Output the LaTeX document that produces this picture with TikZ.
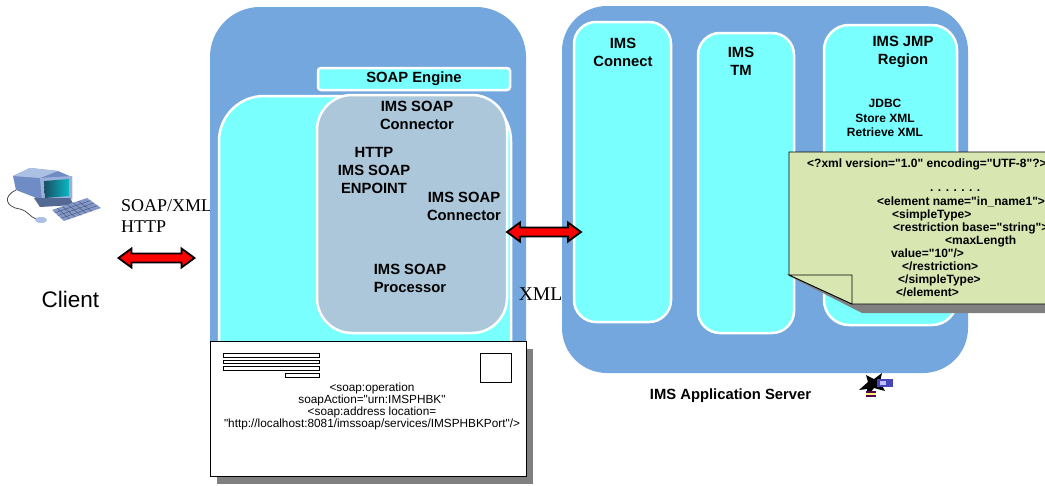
\documentclass[tikz,border=0pt]{standalone}
\usepackage{fontspec}
\setmainfont{Liberation Sans}[Ligatures=TeXOff]
\newfontfamily\tnr{Liberation Serif}
\usetikzlibrary{calc}

\definecolor{srvblue}{RGB}{116,167,222}
\definecolor{boxcyan}{RGB}{122,255,255}
\definecolor{procgray}{RGB}{172,198,218}
\definecolor{notegreen}{RGB}{216,230,178}
\definecolor{shadowgray}{RGB}{128,128,128}
\definecolor{monback}{RGB}{112,140,196}
\definecolor{monlight}{RGB}{172,192,228}
\definecolor{screendark}{RGB}{24,78,100}
\definecolor{kbdblue}{RGB}{132,152,200}

\tikzset{
  server/.style={fill=srvblue, draw=none, rounded corners=#1, inner sep=0},
  column/.style={fill=boxcyan, draw=white, line width=2.5pt, rounded corners=#1, inner sep=0},
  lbl/.style={font=\bfseries\fontsize{14.8}{18}\selectfont, align=center, inner sep=0},
  smalllbl/.style={font=\bfseries\fontsize{12}{14.5}\selectfont, align=center, inner sep=0},
  codeline/.style={font=\bfseries\fontsize{12}{13}\selectfont, anchor=base west, inner sep=0},
  envtext/.style={font=\fontsize{11.8}{10.8}\selectfont, align=center, inner sep=0},
  serifcap/.style={font=\tnr\fontsize{18}{21}\selectfont, anchor=base west, inner sep=0},
  arrowbody/.style={fill=red, draw=black, line width=1.8pt, line join=miter},
  dblarrow/.pic={
    \path[arrowbody] (-#1,0) -- (-#1+13,-9.5) -- (-#1+13,-4.5) -- (#1-13,-4.5)
      -- (#1-13,-9.5) -- (#1,0) -- (#1-13,9.5) -- (#1-13,4.5) -- (-#1+13,4.5)
      -- (-#1+13,9.5) -- cycle;
  },
  bar/.style={fill=white, draw=black, line width=0.7pt}
}

\begin{document}
\begin{tikzpicture}[x=1pt,y=-1pt]
\clip (0,0) rectangle (1045,485);
\fill[white] (0,0) rectangle (1045,485);

% ---------- client workstation ----------
\draw[gray!60!black, line width=0.8pt] (16,190) .. controls (3,196) and (5,207) .. (20,209)
  .. controls (28,211) and (30,217) .. (36,219);
\fill[monback] (13,176) -- (30,168) -- (58,171) -- (72,177) -- (72,199) -- (45,204) -- (34,197) -- (16,190) -- cycle;
\fill[monlight] (13,176) -- (30,168) -- (58,171) -- (40,178) -- cycle;
\fill[monlight!70!monback] (40,178) -- (72,176) -- (72,199) -- (42,202) -- cycle;
\shade[left color=screendark, right color=screendark!40!cyan] (44,181) -- (69,179) -- (69,196) -- (45,198) -- cycle;
\fill[monback!75!black] (34,198) -- (70,198) -- (74,205) -- (40,207) -- cycle;
\fill[kbdblue] (52,210) -- (87,198) -- (101,208) -- (64,221) -- cycle;
\foreach \t in {0.15,0.3,...,0.9}
  \draw[monback!60!black, line width=0.4pt] ($(52,210)!\t!(87,198)$) -- ($(64,221)!\t!(101,208)$);
\foreach \t in {0.25,0.5,0.75}
  \draw[monback!60!black, line width=0.4pt] ($(52,210)!\t!(64,221)$) -- ($(87,198)!\t!(101,208)$);
\fill[monlight] (41,220) ellipse [x radius=6, y radius=3];

\node[font=\fontsize{22.5}{26}\selectfont, inner sep=0] (client) at (70.5,299) {Client};
\node[serifcap] (proto1) at (121,211) {SOAP/XML};
\node[serifcap] (proto2) at (121,232) {HTTP};

% ---------- SOAP server ----------
\node[server=50, minimum width=316, minimum height=388] (soapsrv) at (368,201) {};
\node[column=45, minimum width=292, minimum height=324] (soapbase) at (365,258) {};
\node[column=3, minimum width=192, minimum height=22] (engine) at (414,79) {};
\node[lbl] at (engine) {SOAP Engine};
\node[fill=procgray, draw=white, line width=2.5pt, rounded corners=35, minimum width=190, minimum height=238, inner sep=0] (proc) at (412,214) {};
\node[lbl] (conn1) at (417,115) {IMS SOAP\\Connector};
\node[lbl] (endpt) at (374,170) {HTTP\\IMS SOAP\\ENPOINT};
\node[lbl] (conn2) at (464,206) {IMS SOAP\\Connector};
\node[lbl] (procl) at (410,278) {IMS SOAP\\Processor};

% ---------- IMS application server ----------
\node[server=45, minimum width=406, minimum height=367] (imssrv) at (765,189.5) {};
\node[column=22, minimum width=97, minimum height=300] (imsconn) at (622.5,172) {};
\node[column=22, minimum width=96, minimum height=300] (imstm) at (746,183) {};
\node[column=25, minimum width=133, minimum height=300] (jmp) at (890.5,175) {};
\node[lbl] at (623,52) {IMS\\Connect};
\node[lbl] at (741,61) {IMS\\TM};
\node[lbl] at (903,52) {IMS JMP\\Region};
\node[smalllbl] (jdbc) at (885,118) {JDBC\\Store XML\\Retrieve XML};
\node[font=\bfseries\fontsize{14.8}{18}\selectfont, inner sep=0] (srvname) at (730.5,396) {IMS Application Server};

% ---------- XML schema note ----------
\fill[shadowgray] (789,276) -- (862,313) -- (1060,313) -- (1060,304) -- (852,304) -- cycle;
\path[fill=notegreen, draw=black, line width=0.8pt, line join=miter]
  (789,152) -- (1060,152) -- (1060,304) -- (852,304) -- (789,275) -- cycle;
\path[fill=notegreen, draw=black, line width=0.8pt, line join=miter]
  (789,275) -- (852,275) -- (852,304) -- cycle;
\node[codeline] (x1) at (807,167.3) {<?xml version="1.0" encoding="UTF-8"?>};
\node[codeline] (x2) at (930,191) {. . . . . . .};
\node[codeline] (x3) at (877,205.3) {<element name="in\_name1">};
\node[codeline] (x4) at (892,218.3) {<simpleType>};
\node[codeline] (x5) at (893,231.3) {<restriction base="string">};
\node[codeline] (x6) at (945,244.3) {<maxLength};
\node[codeline] (x7) at (891,257.3) {value="10"/>};
\node[codeline] (x8) at (902,270.3) {</restriction>};
\node[codeline] (x9) at (898,283.3) {</simpleType>};
\node[codeline] (x10) at (896,296.3) {</element>};

% ---------- WSDL envelope ----------
\fill[shadowgray] (217,349) rectangle (533,484);
\node[fill=white, draw=black, line width=0.8pt, minimum width=316, minimum height=135, inner sep=0] (env) at (368,408.5) {};
\draw[bar] (223,353.5) rectangle (319,357);
\draw[bar] (223,360) rectangle (319,363.5);
\draw[bar] (223,366.5) rectangle (319,370);
\draw[bar] (285,373.5) rectangle (319,377);
\draw[fill=white, draw=black, line width=0.8pt] (480,353) rectangle (511,382);
\node[envtext] (wsdl) at (372,406) {<soap:operation\\soapAction="urn:IMSPHBK"\\<soap:address location=\\"http://localhost:8081/imssoap/services/IMSPHBKPort"/>};

% ---------- small adapter icon ----------
\fill[black] (859,390) -- (868,382) -- (866,375) -- (874,379) -- (882,373) -- (880,382) -- (885,391) -- (874,388) -- (867,397) -- (867,389) -- cycle;
\fill[blue!45!gray] (877,379) rectangle (893,387);
\fill[blue!25!white] (880,381) rectangle (886,385);
\fill[violet!70!black] (866,391) rectangle (876,397);
\fill[yellow!60!white] (866,393) rectangle (876,394.5);

% ---------- transport arrows ----------
\pic at (156.5,258) {dblarrow=38};
\pic at (544,232) {dblarrow=37};
\node[font=\tnr\fontsize{19.5}{22}\selectfont, inner sep=0] (xmllbl) at (540.5,294) {XML};
\end{tikzpicture}
\end{document}
